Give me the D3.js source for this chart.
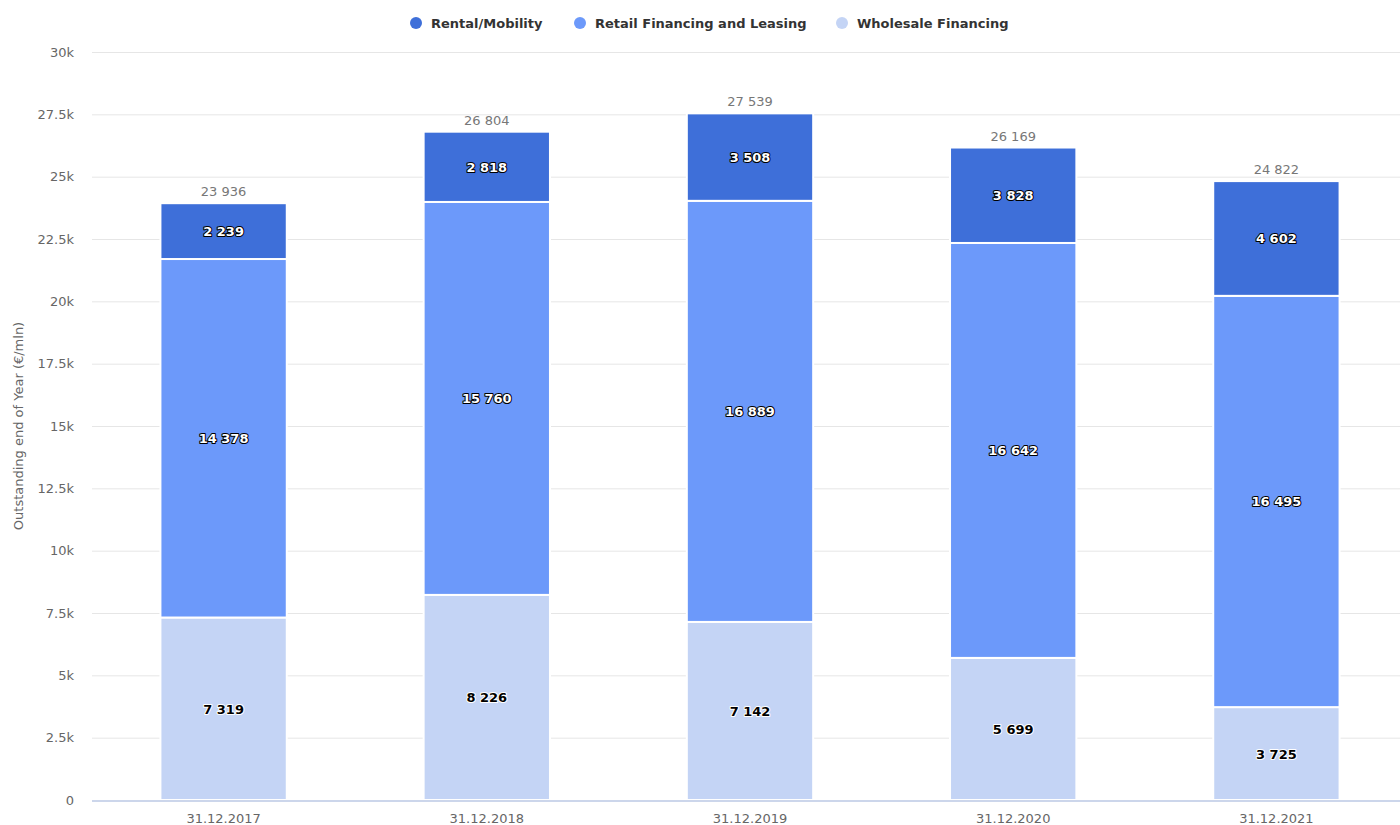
<!DOCTYPE html>
<html>
<head>
<meta charset="utf-8">
<script src="https://cdn.jsdelivr.net/npm/d3@7"></script>
<style>
  body { margin: 0; background: #fff; }
  svg { font-family: "DejaVu Sans", sans-serif; }
</style>
</head>
<body>
<svg width="1400" height="825"></svg>
<script>
const categories = ["31.12.2017", "31.12.2018", "31.12.2019", "31.12.2020", "31.12.2021"];
const wholesale = [7319, 8226, 7142, 5699, 3725];
const retail = [14378, 15760, 16889, 16642, 16495];
const rental = [2239, 2818, 3508, 3828, 4602];
const seriesNames = ["Rental/Mobility", "Retail Financing and Leasing", "Wholesale Financing"];
const colors = ["#3e6fd9", "#6c99fa", "#c4d4f5"];
const yTicks = [0, 2500, 5000, 7500, 10000, 12500, 15000, 17500, 20000, 22500, 25000, 27500, 30000];

const svg = d3.select("svg");
const margin = {left: 92, right: -8, top: 52, bottom: 25};
const width = 1400, height = 825;

const x = d3.scaleBand()
    .domain(categories)
    .range([margin.left, width - margin.right])
    .paddingInner(0.52)
    .paddingOuter(0.26);

const y = d3.scaleLinear()
    .domain([0, 30000])
    .range([height - margin.bottom, margin.top]);

const loc = d3.formatLocale({decimal: ".", thousands: " ", grouping: [3], currency: ["", ""]});
const fmt = loc.format(",d");
const tickFmt = d => d === 0 ? "0" : (d / 1000) + "k";

// gridlines
svg.append("g")
    .selectAll("line")
    .data(yTicks)
    .enter()
    .append("line")
    .attr("x1", margin.left)
    .attr("x2", width)
    .attr("y1", d => y(d) + 0.5)
    .attr("y2", d => y(d) + 0.5)
    .attr("stroke", "#e6e6e6")
    .attr("stroke-width", 1);

// y axis labels
svg.append("g")
    .selectAll("text")
    .data(yTicks)
    .enter()
    .append("text")
    .attr("x", 74)
    .attr("y", d => y(d) + 4.5)
    .attr("text-anchor", "end")
    .attr("fill", "#666")
    .attr("font-size", 13)
    .text(tickFmt);

svg.append("text")
    .attr("transform", `translate(23, ${(y(0) + y(30000)) / 2}) rotate(-90)`)
    .attr("text-anchor", "middle")
    .attr("fill", "#666")
    .attr("font-size", 13)
    .text("Outstanding end of Year (€/mln)");

// stacked data
const rows = categories.map((c, i) => ({
    cat: c,
    "Wholesale Financing": wholesale[i],
    "Retail Financing and Leasing": retail[i],
    "Rental/Mobility": rental[i]
}));
const stackOrder = ["Wholesale Financing", "Retail Financing and Leasing", "Rental/Mobility"];
const stacked = d3.stack().keys(stackOrder)(rows);
const color = d3.scaleOrdinal().domain(seriesNames).range(colors);

const layers = svg.append("g")
    .selectAll("g")
    .data(stacked)
    .enter()
    .append("g")
    .attr("fill", d => color(d.key));

layers.selectAll("rect")
    .data(d => d)
    .enter()
    .append("rect")
    .attr("x", d => x(d.data.cat))
    .attr("width", x.bandwidth())
    .attr("y", d => y(d[1]))
    .attr("height", d => y(d[0]) - y(d[1]))
    .attr("stroke", "#fff")
    .attr("stroke-width", 2);

// x axis line
svg.append("line")
    .attr("x1", margin.left)
    .attr("x2", width)
    .attr("y1", y(0) + 1)
    .attr("y2", y(0) + 1)
    .attr("stroke", "#ccd6eb")
    .attr("stroke-width", 2);

svg.append("g")
    .selectAll("text")
    .data(categories)
    .enter()
    .append("text")
    .attr("x", d => x(d) + x.bandwidth() / 2)
    .attr("y", 823)
    .attr("text-anchor", "middle")
    .attr("fill", "#666")
    .attr("font-size", 13)
    .text(d => d);

// segment labels: light text on the darker series, dark text on the light one
const isLight = key => key === "Wholesale Financing";
layers.each(function(layer) {
    const light = isLight(layer.key);
    d3.select(this).selectAll("text")
        .data(layer)
        .enter()
        .append("text")
        .attr("x", d => x(d.data.cat) + x.bandwidth() / 2)
        .attr("y", d => (y(d[0]) + y(d[1])) / 2 + 5)
        .attr("text-anchor", "middle")
        .attr("font-size", 13)
        .attr("font-weight", "bold")
        .attr("fill", light ? "#000" : "#fff")
        .attr("stroke", light ? "#fff" : "#000")
        .attr("stroke-width", 2)
        .attr("stroke-linejoin", "round")
        .attr("paint-order", "stroke")
        .text(d => fmt(d[1] - d[0]));
});

// totals
const topLayer = stacked[stacked.length - 1];
svg.append("g")
    .selectAll("text")
    .data(topLayer)
    .enter()
    .append("text")
    .attr("x", d => x(d.data.cat) + x.bandwidth() / 2)
    .attr("y", d => y(d[1]) - 7)
    .attr("text-anchor", "middle")
    .attr("fill", "#777")
    .attr("font-size", 13)
    .text(d => fmt(d[1]));

// legend
const legendX = [416, 580, 842];
const legend = svg.append("g")
    .selectAll("g")
    .data(seriesNames)
    .enter()
    .append("g")
    .attr("transform", (d, i) => `translate(${legendX[i]}, 23)`);

legend.append("circle")
    .attr("r", 6)
    .attr("fill", d => color(d));

legend.append("text")
    .attr("x", 15)
    .attr("y", 5)
    .attr("font-size", 13)
    .attr("font-weight", "bold")
    .attr("fill", "#333")
    .text(d => d);
</script>
</body>
</html>
